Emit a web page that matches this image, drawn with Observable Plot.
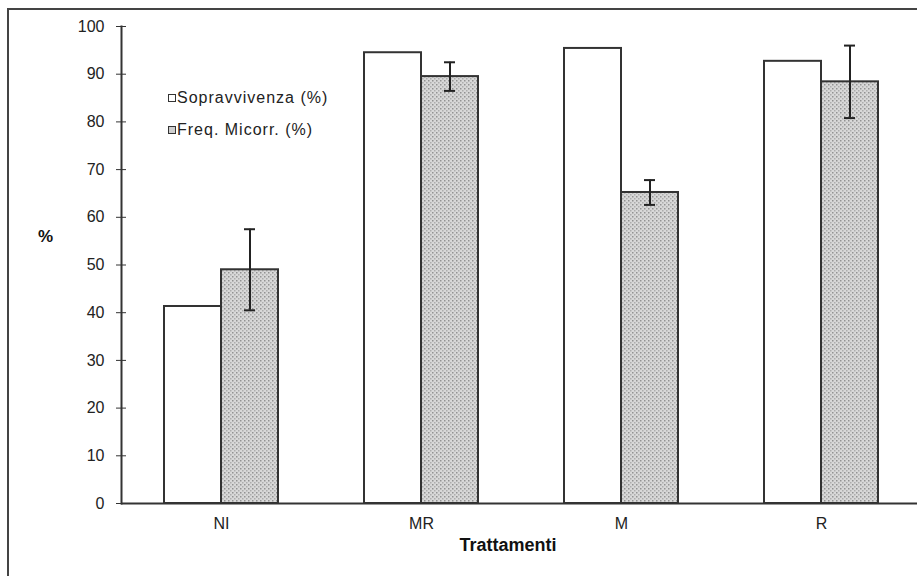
<!DOCTYPE html>
<html>
<head>
<meta charset="utf-8">
<script src="https://cdn.jsdelivr.net/npm/d3@7"></script>
<script src="https://cdn.jsdelivr.net/npm/@observablehq/plot@0.6"></script>
<style>
  html, body { margin: 0; padding: 0; background: #fff; }
  #wrap { position: relative; width: 917px; height: 576px; overflow: hidden; font-family: "Liberation Sans", Arial, sans-serif; }
  #border { position: absolute; left: 7px; top: 8px; right: -10px; bottom: -10px; border-left: 2px solid #444; border-top: 2px solid #444; pointer-events: none; }
  #chart { position: absolute; left: 0; top: 0; }
  .legend { position: absolute; left: 168px; top: 82px; font-size: 16px; letter-spacing: 1px; color: #222; }
  .legend .row { display: flex; align-items: center; height: 32px; }
  .legend .sw { width: 8px; height: 8px; border: 1px solid #333; margin-right: 1px; box-sizing: border-box; }
  .ylab { position: absolute; left: 38px; top: 227px; font-weight: bold; font-size: 17px; color: #111; }
  .xlab { position: absolute; left: 0; width: 1016px; top: 535px; text-align: center; font-weight: bold; font-size: 18px; color: #111; }
</style>
</head>
<body>
<div id="wrap">
  <div id="chart"></div>
  <div id="border"></div>
  <div class="legend">
    <div class="row"><div class="sw" style="background:#fff"></div><span>Sopravvivenza (%)</span></div>
    <div class="row"><div class="sw" style="background:#cfcfcf"></div><span>Freq. Micorr. (%)</span></div>
  </div>
  <div class="ylab">%</div>
  <div class="xlab">Trattamenti</div>
</div>
<script>
const categories = ["NI", "MR", "M", "R"];
const seriesNames = ["Sopravvivenza (%)", "Freq. Micorr. (%)"];
const sopravvivenza = [41.3, 94.5, 95.4, 92.7];
const freqMicorr = [49.0, 89.5, 65.2, 88.4];
const freqErr = [8.5, 3.0, 2.6, 7.6];
const yTicks = [0, 10, 20, 30, 40, 50, 60, 70, 80, 90, 100];

const survRows = categories.map((c, i) => ({cat: c, series: seriesNames[0], value: sopravvivenza[i]}));
const freqRows = categories.map((c, i) => ({cat: c, series: seriesNames[1], value: freqMicorr[i], err: freqErr[i]}));

const plot = Plot.plot({
  width: 917,
  height: 576,
  marginLeft: 121,
  marginRight: 0,
  marginTop: 26,
  marginBottom: 73,
  style: {fontFamily: "Liberation Sans, Arial, sans-serif", background: "transparent"},
  fx: {domain: categories, range: [121, 921], padding: 0, label: null},
  x: {domain: seriesNames, paddingInner: 0, paddingOuter: 0.754, axis: null},
  y: {domain: [0, 100], label: null},
  marks: [
    Plot.ruleY([0], {stroke: "#333", strokeWidth: 2}),
    Plot.barY(survRows, {fx: "cat", x: "series", y: "value", fill: "white", stroke: "#333", strokeWidth: 2, inset: 0}),
    Plot.barY(freqRows, {fx: "cat", x: "series", y: "value", fill: "url(#dots)", stroke: "#333", strokeWidth: 2, inset: 0}),
    Plot.ruleX(freqRows, {fx: "cat", x: "series", y1: d => d.value - d.err, y2: d => d.value + d.err, stroke: "#222", strokeWidth: 2}),
    Plot.tickY(freqRows, {fx: "cat", x: "series", y: d => d.value - d.err, stroke: "#222", strokeWidth: 2, insetLeft: 23, insetRight: 23}),
    Plot.tickY(freqRows, {fx: "cat", x: "series", y: d => d.value + d.err, stroke: "#222", strokeWidth: 2, insetLeft: 23, insetRight: 23}),
    Plot.frame({anchor: "left", fx: () => categories[0], stroke: "#333", strokeWidth: 2}),
    Plot.axisY({ticks: yTicks, tickSize: 10, dx: 5, tickPadding: 12, fontSize: 16, label: null, stroke: "#333", fill: "#222"}),
    Plot.axisFx({anchor: "bottom", tickSize: 0, tickPadding: 14, fontSize: 16, label: null, fill: "#222"})
  ]
});

const svg = d3.select(plot);
const defs = svg.insert("defs", ":first-child");
const pat = defs.append("pattern").attr("id", "dots").attr("patternUnits", "userSpaceOnUse").attr("width", 4).attr("height", 4);
pat.append("rect").attr("width", 4).attr("height", 4).attr("fill", "#d8d8d8");
pat.append("rect").attr("x", 0).attr("y", 0).attr("width", 1.5).attr("height", 1.5).attr("fill", "#929292");
pat.append("rect").attr("x", 2).attr("y", 2).attr("width", 1.5).attr("height", 1.5).attr("fill", "#adadad");

document.getElementById("chart").appendChild(plot);
</script>
</body>
</html>
